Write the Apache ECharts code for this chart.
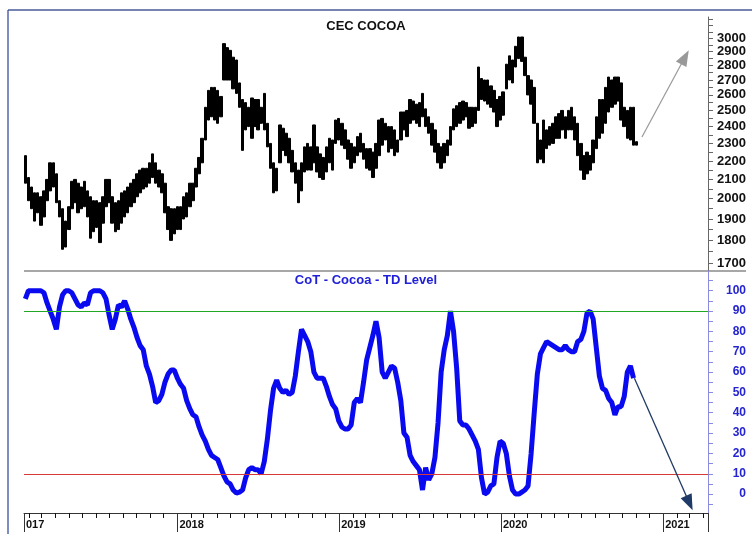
<!DOCTYPE html>
<html>
<head>
<meta charset="utf-8">
<script src="https://cdn.jsdelivr.net/npm/echarts@6/dist/echarts.min.js"></script>
<style>
  html, body { margin: 0; padding: 0; background: #fff; }
  #chart { width: 752px; height: 534px; }
</style>
</head>
<body>
<div id="chart"></div>
<script>
// weekly bars, first week starts 2017-01-23
const firstWeek = [2017, 0, 23];

// CEC cocoa weekly low / high
const priceLow = [
  2080, 1990, 1950, 1890, 1930, 1870, 1910, 1990, 2040, 2060,
  1980, 1910, 1760, 1770, 1850, 1950, 1980, 1930, 1950, 1960,
  1910, 1810, 1840, 1860, 1790, 1880, 1960, 1980, 1880, 1840,
  1850, 1880, 1910, 1930, 1960, 1980, 2010, 2030, 2050, 2060,
  2080, 2110, 2080, 2060, 2030, 1930, 1850, 1800, 1830, 1850,
  1850, 1900, 1910, 1960, 1990, 2060, 2130, 2190, 2320, 2440,
  2460, 2440, 2420, 2460, 2700, 2700, 2700, 2640, 2610, 2520,
  2260, 2380, 2400, 2330, 2400, 2380, 2420, 2380, 2280, 2160,
  2030, 2040, 2190, 2260, 2230, 2190, 2140, 2080, 1980, 2040,
  2140, 2150, 2150, 2190, 2140, 2110, 2100, 2140, 2190, 2150,
  2300, 2320, 2290, 2270, 2210, 2160, 2190, 2230, 2250, 2210,
  2160, 2150, 2110, 2160, 2230, 2290, 2320, 2250, 2270, 2230,
  2250, 2320, 2380, 2340, 2420, 2440, 2420, 2400, 2460, 2400,
  2360, 2290, 2250, 2190, 2160, 2190, 2230, 2290, 2380, 2400,
  2420, 2440, 2460, 2390, 2400, 2420, 2500, 2570, 2560, 2540,
  2520, 2490, 2400, 2440, 2470, 2640, 2700, 2680, 2790, 2850,
  2830, 2730, 2600, 2540, 2420, 2190, 2210, 2190, 2270, 2290,
  2300, 2330, 2330, 2380, 2330, 2380, 2380, 2320, 2230, 2150,
  2100, 2130, 2150, 2190, 2270, 2330, 2360, 2420, 2490, 2520,
  2540, 2560, 2440, 2400, 2330, 2320, 2290, 2290
];
const priceHigh = [
  2230, 2110, 2060, 2030, 2030, 2010, 2040, 2100, 2190, 2190,
  2130, 1990, 1950, 1890, 1960, 2090, 2100, 2080, 2060, 2090,
  2040, 2010, 1990, 1990, 1980, 2010, 2100, 2100, 2010, 1980,
  1990, 2030, 2040, 2060, 2080, 2100, 2130, 2150, 2160, 2160,
  2190, 2240, 2190, 2150, 2130, 2080, 1960, 1950, 1950, 1960,
  1960, 2010, 2030, 2080, 2080, 2160, 2220, 2330, 2520, 2630,
  2650, 2650, 2630, 2590, 2960, 2930, 2910, 2860, 2840, 2680,
  2570, 2550, 2520, 2580, 2570, 2570, 2520, 2610, 2420, 2300,
  2190, 2160, 2410, 2390, 2360, 2330, 2260, 2190, 2150, 2190,
  2280, 2300, 2280, 2410, 2280, 2240, 2220, 2280, 2330, 2320,
  2440, 2450, 2420, 2380, 2320, 2300, 2280, 2340, 2360, 2300,
  2270, 2270, 2250, 2300, 2440, 2450, 2420, 2400, 2400, 2380,
  2320, 2490, 2490, 2500, 2570, 2560, 2540, 2550, 2610, 2510,
  2460, 2420, 2380, 2300, 2280, 2300, 2320, 2400, 2510, 2530,
  2550, 2560, 2550, 2520, 2520, 2520, 2790, 2710, 2700, 2700,
  2660, 2630, 2570, 2590, 2620, 2810, 2870, 2840, 2940, 3010,
  3010, 2860, 2730, 2700, 2650, 2420, 2320, 2440, 2380, 2400,
  2420, 2460, 2480, 2500, 2460, 2500, 2520, 2460, 2420, 2300,
  2230, 2250, 2230, 2320, 2460, 2570, 2570, 2650, 2720, 2700,
  2720, 2720, 2680, 2520, 2500, 2520, 2520, 2310
];

// CoT TD level, same weeks
const cotLevel = [
  96, 100, 100, 100, 100, 100, 99, 94, 90, 86,
  81, 92, 98, 100, 100, 99, 96, 93, 92, 94,
  93, 99, 100, 100, 100, 99, 96, 88, 81, 86,
  93, 92, 95, 91, 86, 82, 77, 73, 71, 63,
  59, 53, 45, 46, 49, 55, 59, 61, 61, 57,
  54, 52, 46, 42, 39, 38, 33, 29, 26, 22,
  19, 18, 17, 13, 9, 6, 5, 2, 0.5, 1,
  2, 8, 12, 13, 12, 12, 10, 16, 27, 41,
  52, 56, 52, 50, 51, 49, 50, 58, 70, 81,
  78, 75, 70, 60, 57, 57, 57, 53, 48, 44,
  42, 36, 33, 32, 32, 34, 45, 47, 45, 55,
  66, 72, 78, 85, 77, 60, 57, 60, 63, 62,
  55, 46, 30, 28, 19, 16, 14, 12, 2, 13,
  7, 10, 18, 35, 60, 71, 78, 90, 80, 62,
  36, 34, 34, 32, 29, 26, 22, 8, 0, 1,
  4, 5, 18, 26, 25, 20, 9, 2, 0, 0,
  1, 2, 4, 20, 40, 59, 69, 72, 75, 74,
  73, 72, 71, 71, 73, 71, 70, 70, 75, 76,
  80, 89, 90, 86, 72, 58, 52, 51, 47, 45,
  39, 43, 43, 48, 60, 63, 57
];

const priceLabels = [1700, 1800, 1900, 2000, 2100, 2200, 2300, 2400, 2500, 2600, 2700, 2800, 2900, 3000];
const priceTicks = [1700, 1750, 1800, 1850, 1900, 1950, 2000, 2050, 2100, 2150, 2200, 2250, 2300, 2350,
  2400, 2450, 2500, 2550, 2600, 2650, 2700, 2750, 2800, 2850, 2900, 2950, 3000, 3050, 3100, 3150];
const cotLabels = [0, 10, 20, 30, 40, 50, 60, 70, 80, 90, 100];
const cotTicks = [-5, 0, 5, 10, 15, 20, 25, 30, 35, 40, 45, 50, 55, 60, 65, 70, 75, 80, 85, 90, 95, 100, 105];
const upperBand = 90;
const lowerBand = 10;

// hand-drawn arrows (date, value)
const priceArrow = [['2020-11-14', 2338], ['2021-02-19', 2860]];
const cotArrow = [['2020-10-28', 57], ['2021-03-01', -4.4]];

const axisMin = new Date(2017, 0, 20).getTime();
const axisMax = new Date(2021, 3, 12).getTime();
const DAY = 86400000;

const weekDates = priceLow.map((_, i) => new Date(firstWeek[0], firstWeek[1], firstWeek[2] + 7 * i).getTime());

const font = 'Liberation Sans, Arial, sans-serif';

// horizontal band line as its own empty series
function bandSeries(name, value, color) {
  return {
    name: name,
    type: 'line',
    xAxisIndex: 1,
    yAxisIndex: 1,
    data: [],
    z: 1,
    markLine: {
      silent: true,
      symbol: 'none',
      label: { show: false },
      lineStyle: { color: color, width: 1.2, type: 'solid' },
      data: [{ yAxis: value }]
    }
  };
}

let chart = echarts.init(document.getElementById('chart'));
chart.setOption({
  animation: false,
  backgroundColor: '#fff',
  grid: [
    { left: 24, right: 44, top: 17, height: 254 },
    { left: 24, right: 44, top: 271, height: 242 }
  ],
  xAxis: [
    { type: 'time', gridIndex: 0, min: axisMin, max: axisMax, show: false },
    {
      type: 'time', gridIndex: 1, min: axisMin, max: axisMax, position: 'bottom',
      minInterval: 28 * DAY, maxInterval: 31 * DAY,
      axisLine: { onZero: false, lineStyle: { color: '#333', width: 1 } },
      axisTick: { show: true, length: 5, lineStyle: { color: '#111', width: 1 } },
      axisLabel: {
        align: 'left', padding: [0, 0, 0, 2], margin: 6, hideOverlap: false,
        showMinLabel: true, showMaxLabel: false,
        color: '#111', fontWeight: 'bold', fontSize: 11, fontFamily: font,
        formatter: function (v) {
          const d = new Date(v);
          if (v === axisMin) return '017';
          return (d.getMonth() === 0 && d.getDate() === 1) ? String(d.getFullYear()) : '';
        }
      },
      splitLine: { show: false }
    },
    {
      type: 'time', gridIndex: 1, min: axisMin, max: axisMax, position: 'bottom',
      minInterval: 365 * DAY, maxInterval: 366 * DAY,
      axisLine: { show: false, onZero: false },
      axisTick: { show: true, length: 19, lineStyle: { color: '#333' } },
      axisLabel: { show: false },
      splitLine: { show: false }
    }
  ],
  yAxis: [
    {
      type: 'log', gridIndex: 0, position: 'right', min: 1666, max: 3166,
      axisLine: { show: true, lineStyle: { color: '#666' } },
      axisTick: { show: true, customValues: priceTicks, length: 5, lineStyle: { color: '#666' } },
      axisLabel: {
        customValues: priceLabels, align: 'right', margin: 38,
        color: '#111', fontWeight: 'bold', fontSize: 13, fontFamily: font,
        formatter: function (v) { return String(Math.round(v)); }
      },
      splitLine: { show: false }
    },
    {
      type: 'value', gridIndex: 1, position: 'right', min: -9.3, max: 109.7,
      axisLine: { show: true, lineStyle: { color: '#8a8ae0' } },
      axisTick: { show: true, customValues: cotTicks, length: 5, lineStyle: { color: '#8a8ae0' } },
      axisLabel: {
        customValues: cotLabels, align: 'right', margin: 38,
        color: '#2424d0', fontWeight: 'bold', fontSize: 12, fontFamily: font
      },
      splitLine: { show: false }
    }
  ],
  series: [
    {
      name: 'CEC COCOA',
      type: 'candlestick',
      xAxisIndex: 0,
      yAxisIndex: 0,
      barWidth: 3,
      itemStyle: { color: '#000', color0: '#000', borderColor: '#000', borderColor0: '#000', borderWidth: 1 },
      data: weekDates.map((d, i) => [d, priceLow[i], priceHigh[i], priceLow[i], priceHigh[i]])
    },
    {
      name: 'arrowTop',
      type: 'line',
      xAxisIndex: 0,
      yAxisIndex: 0,
      data: [],
      markLine: {
        silent: true,
        label: { show: false },
        lineStyle: { color: '#999', width: 1.2, type: 'solid' },
        symbol: ['none', 'triangle'],
        symbolSize: [12, 16],
        data: [[
          { coord: [new Date(priceArrow[0][0]).getTime(), priceArrow[0][1]] },
          { coord: [new Date(priceArrow[1][0]).getTime(), priceArrow[1][1]] }
        ]]
      }
    },
    bandSeries('upper', upperBand, '#22a822'),
    bandSeries('lower', lowerBand, '#d83a3a'),
    {
      name: 'CoT - Cocoa - TD Level',
      type: 'line',
      xAxisIndex: 1,
      yAxisIndex: 1,
      z: 3,
      showSymbol: false,
      lineStyle: { color: '#0a0af0', width: 5 },
      itemStyle: { color: '#0a0af0' },
      data: cotLevel.map((v, i) => [weekDates[i], v])
    },
    {
      name: 'arrowBottom',
      type: 'line',
      xAxisIndex: 1,
      yAxisIndex: 1,
      data: [],
      markLine: {
        silent: true,
        label: { show: false },
        lineStyle: { color: '#1f3a66', width: 1.3, type: 'solid' },
        symbol: ['none', 'triangle'],
        symbolSize: [12, 16],
        data: [[
          { coord: [new Date(cotArrow[0][0]).getTime(), cotArrow[0][1]] },
          { coord: [new Date(cotArrow[1][0]).getTime(), cotArrow[1][1]] }
        ]]
      }
    }
  ],
  graphic: [
    { type: 'line', shape: { x1: 8, y1: 10, x2: 8, y2: 534 }, style: { stroke: '#7f8cbf', lineWidth: 2 } },
    { type: 'line', shape: { x1: 8, y1: 10, x2: 752, y2: 10 }, style: { stroke: '#4a5a9a', lineWidth: 1.5 } },
    { type: 'line', shape: { x1: 24, y1: 271, x2: 746, y2: 271 }, style: { stroke: '#8a8a8a', lineWidth: 1.5 } },
    {
      type: 'text', x: 366, y: 26,
      style: { text: 'CEC COCOA', font: 'bold 13px ' + font, fill: '#111', textAlign: 'center', textVerticalAlign: 'middle' }
    },
    {
      type: 'text', x: 366, y: 280,
      style: { text: 'CoT - Cocoa - TD Level', font: 'bold 13px ' + font, fill: '#2020d8', textAlign: 'center', textVerticalAlign: 'middle' }
    }
  ]
});
window.addEventListener('resize', function () {
  chart.resize();
});
</script>
</body>
</html>
